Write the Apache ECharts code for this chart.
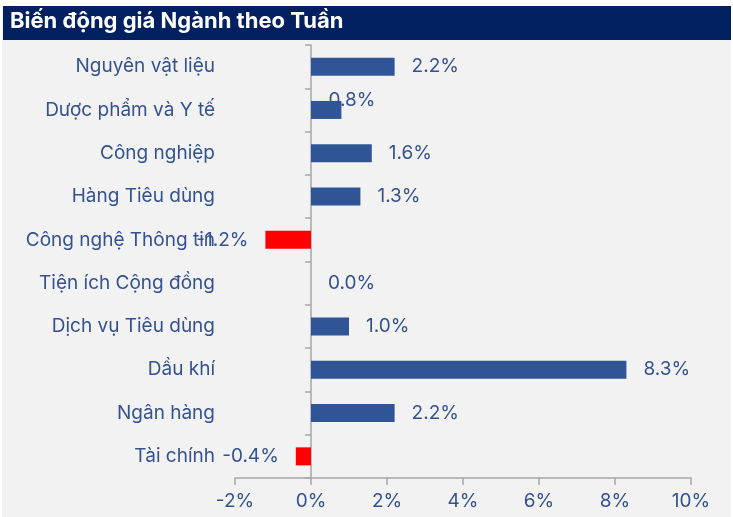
<!DOCTYPE html>
<html><head><meta charset="utf-8">
<script src="https://cdn.jsdelivr.net/npm/echarts@6/dist/echarts.min.js"></script>
<style>html,body{margin:0;padding:0;background:#fff;}#c{width:733px;height:517px;}</style>
</head><body><div id="c"></div>
<script>
const titleText = 'Biến động giá Ngành theo Tuần';
const categories = ['Nguyên vật liệu','Dược phẩm và Y tế','Công nghiệp','Hàng Tiêu dùng','Công nghệ Thông tin','Tiện ích Cộng đồng','Dịch vụ Tiêu dùng','Dầu khí','Ngân hàng','Tài chính'];
const values = [2.2, 0.8, 1.6, 1.3, -1.2, 0.0, 1.0, 8.3, 2.2, -0.4];
const xTicks = [-2, 0, 2, 4, 6, 8, 10];

const txtColor = '#34528F';
const chart = echarts.init(document.getElementById('c'));
const cats = categories.slice().reverse();
const vals = values.slice().reverse();
const data = vals.map((v, i) => {
  const item = {
    value: v,
    itemStyle: { color: v < 0 ? '#FF0000' : '#2F5597' },
    label: { position: v < 0 ? 'left' : 'right', distance: 17 }
  };
  if (cats[i] === 'Dược phẩm và Y tế') {
    item.label = { position: 'right', distance: 17, offset: [-30, -10] };
  }
  return item;
});
chart.setOption({
  backgroundColor: '#ffffff',
  animation: false,
  graphic: [
    { type: 'rect', left: 2, top: 6, shape: { width: 729, height: 511 }, style: { fill: '#F2F2F2' }, z: -10 },
    { type: 'rect', left: 3, top: 6, shape: { width: 728, height: 34 }, style: { fill: '#002060' }, z: -9 },
    { type: 'text', left: 10, top: 10, style: { text: titleText, fill: '#ffffff', font: 'bold 22px Inter', }, z: 10 }
  ],
  grid: { left: 235, right: 42, top: 45, bottom: 39, containLabel: false },
  xAxis: {
    type: 'value', min: -2, max: 10, interval: 2,
    axisLine: { show: true, onZero: false, lineStyle: { color: '#A6A6A6', width: 1.5 } },
    axisTick: { show: true, length: 7, lineStyle: { color: '#A6A6A6', width: 1.5 } },
    splitLine: { show: false },
    axisLabel: { color: txtColor, fontFamily: 'Inter', fontSize: 19, margin: 14,
      formatter: v => xTicks.includes(v) ? v + '%' : '' }
  },
  yAxis: [
    {
      type: 'category', data: cats, position: 'left',
      axisLine: { show: false, onZero: false }, axisTick: { show: false },
      axisLabel: { color: txtColor, fontFamily: 'Inter', fontSize: 19, margin: 20 }
    },
    {
      type: 'category', data: cats, position: 'left',
      axisLine: { show: true, onZero: true, lineStyle: { color: '#A6A6A6', width: 1.5 } },
      axisTick: { show: true, length: 6, lineStyle: { color: '#A6A6A6', width: 1.5 } },
      axisLabel: { show: false }
    }
  ],
  series: [{
    type: 'bar', data: data, barWidth: 18, yAxisIndex: 0,
    label: { show: true, color: txtColor, fontFamily: 'Inter', fontSize: 19,
      formatter: p => p.value.toFixed(1) + '%' }
  }]
});
</script></body></html>
